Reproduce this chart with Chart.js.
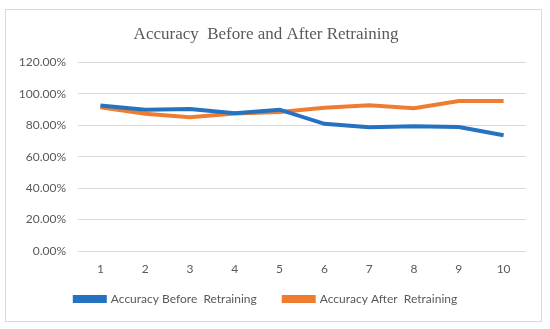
<!DOCTYPE html>
<html>
<head>
<meta charset="utf-8">
<script src="https://cdn.jsdelivr.net/npm/chart.js@4"></script>
<style>
  html, body { margin: 0; padding: 0; background: #fff; }
  #box { position: absolute; left: 5px; top: 9px; width: 535px; height: 311px; border: 1px solid #d9d9d9; }
  #accuracyChart { position: absolute; left: 6px; top: 10px; display: block; }
</style>
</head>
<body>
<div id="box"></div>
<canvas id="accuracyChart" width="535" height="305"></canvas>
<script>
const epochs = ['1', '2', '3', '4', '5', '6', '7', '8', '9', '10'];
const accuracyBefore = [92.6, 89.8, 90.4, 87.7, 89.9, 80.9, 78.8, 79.4, 78.9, 73.7];
const accuracyAfter = [91.5, 87.3, 85.1, 87.5, 88.5, 91.1, 92.8, 90.9, 95.5, 95.5];

const textGray = '#595959';
const FONT = 'Lato, "Open Sans", sans-serif';

new Chart(document.getElementById('accuracyChart'), {
  type: 'line',
  data: {
    labels: epochs,
    datasets: [
      { label: 'Accuracy Before  Retraining', data: accuracyBefore, borderColor: '#2472c0', backgroundColor: '#2472c0', borderWidth: 4, pointRadius: 0, tension: 0 },
      { label: 'Accuracy After  Retraining', data: accuracyAfter, borderColor: '#ef7d31', backgroundColor: '#ef7d31', borderWidth: 4, pointRadius: 0, tension: 0 },
    ],
  },
  options: {
    responsive: false,
    animation: false,
    layout: { padding: { left: 0, right: 15, top: 0, bottom: 0 } },
    plugins: {
      title: {
        display: true,
        text: 'Accuracy  Before and After Retraining',
        color: textGray,
        font: { family: '"Liberation Serif", "DejaVu Serif", serif', size: 17, weight: 'normal' },
        padding: { top: 14, bottom: 18 },
      },
      legend: {
        position: 'bottom',
        labels: { color: textGray, font: { family: FONT, size: 12 }, boxWidth: 30, boxHeight: 4, padding: 27 },
      },
      tooltip: { enabled: false },
    },
    scales: {
      x: {
        offset: true,
        grid: { display: false, drawTicks: false },
        border: { display: false },
        ticks: { color: textGray, font: { family: FONT, size: 12 }, padding: 11 },
        // shrink the axis box so the legend sits close; let the labels hang out of it unclipped
        afterFit: axis => {
          axis.height = 15;
          axis._computeLabelArea = () => undefined;
        },
      },
      y: {
        min: 0,
        max: 120,
        grid: { color: '#d9d9d9', drawTicks: false },
        border: { display: false },
        ticks: {
          stepSize: 20,
          color: textGray,
          font: { family: FONT, size: 12 },
          padding: 12,
          callback: v => v.toFixed(2) + '%',
        },
        afterFit: axis => { axis.width = 72; },
      },
    },
  },
});
</script>
</body>
</html>
